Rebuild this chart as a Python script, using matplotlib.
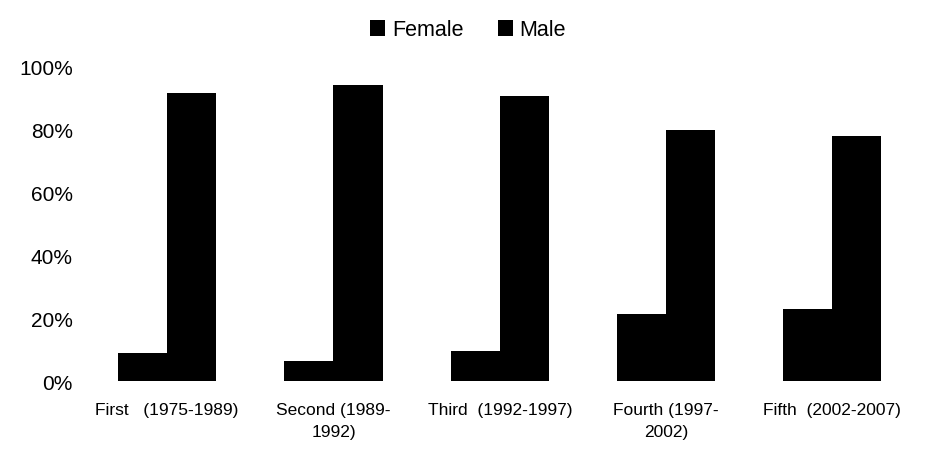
import matplotlib.pyplot as plt
import numpy as np
from matplotlib.ticker import FuncFormatter

plt.rcParams["font.family"] = ["Liberation Sans", "DejaVu Sans"]

categories = [
    "First   (1975-1989)",
    "Second (1989-\n1992)",
    "Third  (1992-1997)",
    "Fourth (1997-\n2002)",
    "Fifth  (2002-2007)",
]
female = [9.0, 6.5, 9.8, 21.3, 23.0]
male = [91.5, 94.2, 90.8, 79.8, 77.9]

fig = plt.figure(figsize=(9.26, 4.64), dpi=100)
ax = fig.add_axes([0.0907, 0.176, 0.898, 0.678])

x = np.arange(len(categories))
width = 0.295
ax.bar(x - width / 2, female, width, color="black", label="Female")
ax.bar(x + width / 2, male, width, color="black", label="Male")

ax.set_xlim(-0.5, len(categories) - 0.5)
ax.set_ylim(0, 100)
ax.set_yticks([0, 20, 40, 60, 80, 100])
ax.yaxis.set_major_formatter(FuncFormatter(lambda v, _: f"{v:.0f}%"))
ax.set_xticks(x)
ax.set_xticklabels(categories, fontsize=12.5, linespacing=1.55)
ax.tick_params(axis="y", labelsize=15, length=0, pad=8)
ax.tick_params(axis="x", length=0, pad=15)
for s in ax.spines.values():
    s.set_visible(False)

fig.legend(
    loc="center",
    bbox_to_anchor=(468 / 926, 1 - 31 / 464),
    ncol=2,
    frameon=False,
    fontsize=15.5,
    handlelength=0.7,
    handleheight=0.7,
    handletextpad=0.3,
    columnspacing=1.6,
)

fig.savefig("out.png", dpi=100)
